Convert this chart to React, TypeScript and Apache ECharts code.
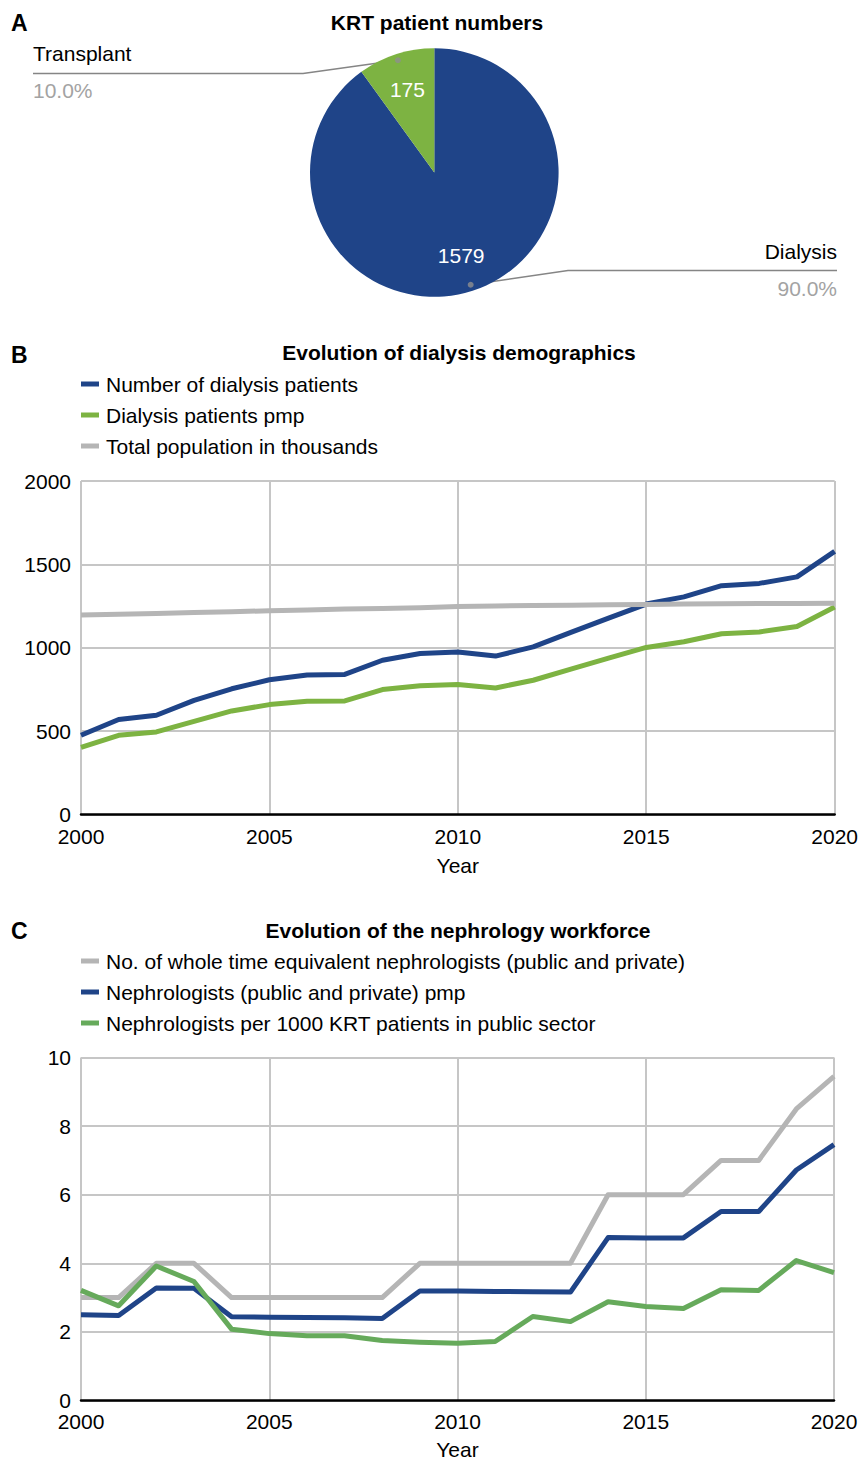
import React, { useEffect, useRef } from 'react';
import * as echarts from 'echarts';

// ---------- Data ----------
const pieNames = ['Dialysis', 'Transplant'];
const pieValues = [1579, 175];

const years = [
  2000, 2001, 2002, 2003, 2004, 2005, 2006, 2007, 2008, 2009, 2010,
  2011, 2012, 2013, 2014, 2015, 2016, 2017, 2018, 2019, 2020,
];

// Panel B
const dialysisPatients = [
  475, 570, 595, 684, 754, 808, 836, 840, 925, 965, 975,
  950, 1005, 1092, 1178, 1262, 1305, 1372, 1386, 1425, 1578,
];
const dialysisPmp = [
  403, 475, 495, 559, 621, 659, 679, 681, 749, 772, 780,
  759, 805, 872, 938, 1002, 1036, 1084, 1095, 1127, 1244,
];
const populationThousands = [
  1196, 1201, 1206, 1211, 1216, 1222, 1227, 1232, 1236, 1240, 1248,
  1251, 1253, 1255, 1258, 1260, 1262, 1264, 1265, 1266, 1267,
];

// Panel C
const wteNephrologists = [
  3, 3, 4, 4, 3, 3, 3, 3, 3, 4, 4,
  4, 4, 4, 6, 6, 6, 7, 7, 8.5, 9.45,
];
const nephrologistsPmp = [
  2.5, 2.48, 3.28, 3.27, 2.44, 2.43, 2.42, 2.41, 2.39, 3.19, 3.19,
  3.18, 3.17, 3.16, 4.75, 4.74, 4.74, 5.51, 5.51, 6.72, 7.46,
];
const nephPer1000Krt = [
  3.21, 2.76, 3.92, 3.47, 2.08, 1.95, 1.89, 1.89, 1.75, 1.7, 1.67,
  1.72, 2.45, 2.3, 2.88, 2.74, 2.68, 3.23, 3.21, 4.08, 3.73,
];

const xTicks = [2000, 2005, 2010, 2015, 2020];
const yTicksB = [0, 500, 1000, 1500, 2000];
const yTicksC = [0, 2, 4, 6, 8, 10];

const seriesNamesB = ['Number of dialysis patients', 'Dialysis patients pmp', 'Total population in thousands'];
const seriesNamesC = [
  'No. of whole time equivalent nephrologists (public and private)',
  'Nephrologists (public and private) pmp',
  'Nephrologists per 1000 KRT patients in public sector',
];

// ---------- Styles ----------
const FONT = '"Liberation Sans", Arial, Helvetica, sans-serif';
const BLUE = '#1f4488';
const GREEN_B = '#7db342';
const GREEN_C = '#66aa5b';
const GRAY = '#b5b5b5';
const GRID_COLOR = '#c6c6c6';

const pairs = (arr: number[]) => years.map((y, i) => [y, arr[i]]);

function axisX(gridIndex: number, nameGap: number, margin: number) {
  return {
    gridIndex,
    type: 'value',
    min: xTicks[0],
    max: xTicks[xTicks.length - 1],
    interval: xTicks[1] - xTicks[0],
    name: 'Year',
    nameLocation: 'middle',
    nameGap,
    nameTextStyle: { fontSize: 21, color: '#000', fontFamily: FONT },
    axisLine: { show: true, onZero: false, lineStyle: { color: '#000', width: 2.5 } },
    axisTick: { show: false },
    axisLabel: { fontSize: 21, color: '#000', margin, fontFamily: FONT, formatter: (v: number) => String(v) },
    splitLine: { show: true, lineStyle: { color: GRID_COLOR, width: 2 } },
  };
}

function axisY(gridIndex: number, ticks: number[]) {
  return {
    gridIndex,
    type: 'value',
    min: ticks[0],
    max: ticks[ticks.length - 1],
    interval: ticks[1] - ticks[0],
    axisLine: { show: false },
    axisTick: { show: false },
    axisLabel: { fontSize: 21, color: '#000', margin: 10, fontFamily: FONT, formatter: (v: number) => String(v) },
    splitLine: { show: true, lineStyle: { color: GRID_COLOR, width: 2 } },
  };
}

function lineSeries(name: string, data: number[], color: string, axisIndex: number, z: number) {
  return {
    type: 'line',
    name,
    xAxisIndex: axisIndex,
    yAxisIndex: axisIndex,
    data: pairs(data),
    showSymbol: false,
    symbol: 'none',
    silent: true,
    z,
    itemStyle: { color },
    lineStyle: { color, width: 5, join: 'round' },
  };
}

function legend(top: number, names: string[]) {
  return {
    orient: 'vertical',
    left: 81,
    top,
    padding: 0,
    itemGap: 10,
    itemWidth: 18,
    itemHeight: 5,
    icon: 'rect',
    selectedMode: false,
    textStyle: { fontSize: 21, color: '#000', fontFamily: FONT, padding: [0, 0, 0, 2] },
    data: names,
  };
}

function text(x: number, y: number, t: string, size: number, bold: boolean, align: string) {
  return {
    type: 'text',
    x,
    y,
    silent: true,
    style: {
      text: t,
      font: `${bold ? 'bold ' : ''}${size}px ${FONT}`,
      fill: '#000',
      textAlign: align,
      textVerticalAlign: 'middle',
      align,
      verticalAlign: 'middle',
    },
  };
}

export default function App() {
  const ref = useRef<HTMLDivElement>(null);

  useEffect(() => {
    document.body.style.margin = '0';
    if (!ref.current) return;
    const chart = echarts.init(ref.current, undefined, { renderer: 'svg' });

    const total = pieValues.reduce((a, b) => a + b, 0);
    const midAngles: number[] = [];
    let acc = 0;
    pieValues.forEach((v) => {
      midAngles.push(acc + v / 2);
      acc += v;
    });
    const pieColors = [BLUE, GREEN_B];
    const pieData = pieNames.map((n, i) => ({ name: n, value: pieValues[i], itemStyle: { color: pieColors[i] } }));
    const ghostData = pieNames.map((n, i) => ({ name: n, value: pieValues[i], itemStyle: { color: 'rgba(0,0,0,0)' } }));

    const option: any = {
      animation: false,
      textStyle: { fontFamily: FONT },
      graphic: [
        text(11, 22.5, 'A', 23, true, 'left'),
        text(437, 22, 'KRT patient numbers', 21, true, 'center'),
        text(11, 354.5, 'B', 23, true, 'left'),
        text(459, 352.5, 'Evolution of dialysis demographics', 21, true, 'center'),
        text(11, 931, 'C', 23, true, 'left'),
        text(458, 930, 'Evolution of the nephrology workforce', 21, true, 'center'),
      ],
      legend: [legend(373.5, seriesNamesB), legend(950.5, seriesNamesC)],
      grid: [
        { left: 81, top: 481, width: 756, height: 333.5 },
        { left: 81, top: 1057.5, width: 753, height: 343.5 },
      ],
      xAxis: [axisX(0, 40, 11), axisX(1, 38.5, 10)],
      yAxis: [axisY(0, yTicksB), axisY(1, yTicksC)],
      polar: { center: [434.3, 172.5], radius: 118 },
      angleAxis: {
        type: 'value',
        min: 0,
        max: total,
        startAngle: 90,
        clockwise: true,
        axisLine: { show: false },
        axisTick: { show: false },
        axisLabel: { show: false },
        splitLine: { show: false },
      },
      radiusAxis: {
        type: 'value',
        min: 0,
        max: 1,
        axisLine: { show: false },
        axisTick: { show: false },
        axisLabel: { show: false },
        splitLine: { show: false },
      },
      series: [
        {
          type: 'pie',
          center: [434.3, 172.5],
          radius: 124.3,
          startAngle: 90,
          clockwise: true,
          silent: true,
          label: { show: false },
          labelLine: { show: false },
          data: pieData,
        },
        {
          type: 'pie',
          center: [434.3, 172.5],
          radius: [44, 124.3],
          startAngle: 90,
          clockwise: true,
          silent: true,
          emphasis: { disabled: true },
          label: { show: true, position: 'inside', formatter: '{c}', color: '#fff', fontSize: 21, fontFamily: FONT },
          labelLine: { show: false },
          data: ghostData,
        },
        {
          type: 'pie',
          center: [434.3, 172.5],
          radius: 118,
          startAngle: 90,
          clockwise: true,
          silent: true,
          emphasis: { disabled: true },
          label: {
            show: true,
            position: 'outside',
            formatter: (p: any) => `{n|${p.name}}\n{p|${p.percent.toFixed(1)}%}`,
            rich: {
              n: { fontSize: 21, color: '#000', lineHeight: 37, fontFamily: FONT },
              p: { fontSize: 21, color: '#a3a3a3', lineHeight: 37, fontFamily: FONT },
            },
          },
          labelLine: { show: true, length: 20, length2: 20, lineStyle: { color: '#858585', width: 1.5 } },
          labelLayout: (params: any) => {
            const isLeft = params.dataIndex === 1;
            const lineY = isLeft ? 73.5 : 270.5;
            const turnX = isLeft ? 303 : 568;
            const endX = isLeft ? 33 : 837;
            const res: any = {
              x: endX,
              y: isLeft ? 71.5 : 270,
              align: isLeft ? 'left' : 'right',
              verticalAlign: 'middle',
            };
            const pts = params.labelLinePoints;
            if (pts && pts[0]) {
              res.labelLinePoints = [pts[0], [turnX, lineY], [endX, lineY]];
            }
            return res;
          },
          data: ghostData,
        },
        {
          type: 'scatter',
          coordinateSystem: 'polar',
          silent: true,
          symbolSize: 6,
          z: 10,
          itemStyle: { color: '#8f8f8f' },
          data: midAngles.map((a) => [1, a]),
        },
        lineSeries(seriesNamesB[0], dialysisPatients, BLUE, 0, 3),
        lineSeries(seriesNamesB[1], dialysisPmp, GREEN_B, 0, 3),
        lineSeries(seriesNamesB[2], populationThousands, GRAY, 0, 3),
        lineSeries(seriesNamesC[0], wteNephrologists, GRAY, 1, 3),
        lineSeries(seriesNamesC[1], nephrologistsPmp, BLUE, 1, 3),
        lineSeries(seriesNamesC[2], nephPer1000Krt, GREEN_C, 1, 3),
      ],
    };

    chart.setOption(option);
    return () => {
      chart.dispose();
    };
  }, []);

  return <div ref={ref} style={{ width: 861, height: 1461 }} />;
}
